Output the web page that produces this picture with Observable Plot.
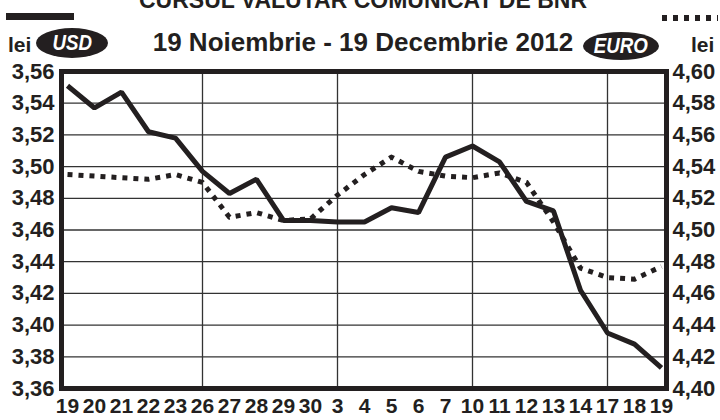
<!DOCTYPE html>
<html><head><meta charset="utf-8">
<script src="https://cdn.jsdelivr.net/npm/d3@7"></script>
<script src="https://cdn.jsdelivr.net/npm/@observablehq/plot@0.6"></script>
<style>
body{margin:0;background:#fff;font-family:"Liberation Sans",Arial,sans-serif;}
#wrap{width:720px;height:420px;overflow:hidden;position:relative;background:#fff;}
#head{position:relative;width:720px;height:62px;overflow:hidden;}
.t{position:absolute;font-weight:bold;color:#231f20;line-height:1;white-space:nowrap;}
.pill{position:absolute;background:#231f20;border-radius:50%;color:#fff;font-weight:bold;font-style:italic;display:flex;align-items:center;justify-content:center;line-height:1;}
.pill span{display:inline-block;transform:scaleX(0.85);}
</style></head>
<body><div id="wrap">
<div id="head">
  <div class="t" style="left:3px;width:720px;text-align:center;top:-11px;font-size:23px;">CURSUL VALUTAR COMUNICAT DE BNR</div>
  <div style="position:absolute;left:6px;top:13px;width:68px;height:7px;background:#231f20;"></div>
  <div style="position:absolute;left:662px;top:15px;width:56px;height:6px;background:repeating-linear-gradient(to right,#231f20 0 5px,transparent 5px 11px);"></div>
  <div class="t" style="left:8px;top:34px;font-size:21px;">lei</div>
  <div class="pill" style="left:36px;top:28px;width:72px;height:30px;font-size:22px;"><span>USD</span></div>
  <div class="t" style="left:3px;width:720px;text-align:center;top:29px;font-size:26px;">19 Noiembrie - 19 Decembrie 2012</div>
  <div class="pill" style="left:583px;top:32px;width:76px;height:28px;font-size:22px;"><span>EURO</span></div>
  <div class="t" style="left:691px;top:34px;font-size:21px;">lei</div>
</div>
<div id="chart"></div>
</div>
<script>
const days = [19,20,21,22,23,26,27,28,29,30,3,4,5,6,7,10,11,12,13,14,17,18,19];
const usd = [3.551,3.537,3.547,3.522,3.518,3.497,3.483,3.492,3.466,3.466,3.465,3.465,3.474,3.471,3.506,3.513,3.503,3.478,3.472,3.422,3.395,3.388,3.373];
const euro = [4.535,4.534,4.533,4.532,4.535,4.530,4.508,4.511,4.506,4.507,4.522,4.535,4.546,4.537,4.534,4.533,4.536,4.530,4.505,4.476,4.470,4.469,4.477];
const usdTicks = [3.36,3.38,3.40,3.42,3.44,3.46,3.48,3.50,3.52,3.54,3.56];
const euroTicks = [4.40,4.42,4.44,4.46,4.48,4.50,4.52,4.54,4.56,4.58,4.60];

const OFFSET = euroTicks[0] - usdTicks[0];
const ink = "#231f20";
const rows = days.map((d,i)=>({i, day:d, usd:usd[i], euro:euro[i]}));
const weekStarts = rows.filter((r,k)=>k>0 && r.day !== rows[k-1].day+1).map(r=>r.i);
const fmt = v => v.toFixed(2).replace(".", ",");

const chart = Plot.plot({
  width:720, height:358, marginTop:9, marginBottom:32, marginLeft:61, marginRight:54,
  x:{type:"point", domain: rows.map(r=>r.i), padding:0},
  y:{domain:[usdTicks[0], usdTicks[usdTicks.length-1]]},
  style:{fontFamily:"Liberation Sans, Arial, sans-serif", fontWeight:"bold", color:ink, background:"white", overflow:"visible"},
  marks:[
    Plot.ruleY(usdTicks.slice(1,-1), {stroke:"#333", strokeWidth:1.3}),
    Plot.ruleX(weekStarts, {stroke:"#333", strokeWidth:1.3}),
    Plot.line(rows, {x:"i", y:"usd", stroke:ink, strokeWidth:5, strokeLinejoin:"miter", strokeLinecap:"butt"}),
    Plot.line(rows, {x:"i", y:d=>d.euro-OFFSET, stroke:ink, strokeWidth:5, strokeDasharray:"5,6", strokeLinecap:"butt"}),
    Plot.frame({stroke:ink, strokeWidth:5}),
    Plot.axisY(usdTicks, {anchor:"left", tickSize:0, tickPadding:7, tickFormat:fmt, fontSize:22, fontWeight:"bold", fill:ink, label:null}),
    Plot.axisY(usdTicks, {anchor:"right", tickSize:0, tickPadding:6, tickFormat:(v,k)=>fmt(euroTicks[k]), fontSize:22, fontWeight:"bold", fill:ink, label:null}),
    Plot.axisX(rows.map(r=>r.i), {anchor:"bottom", tickSize:0, tickPadding:10, tickFormat:i=>String(days[i]), fontSize:21, fontWeight:"bold", fill:ink, label:null})
  ]
});
document.getElementById("chart").appendChild(chart);
</script>
</body></html>
